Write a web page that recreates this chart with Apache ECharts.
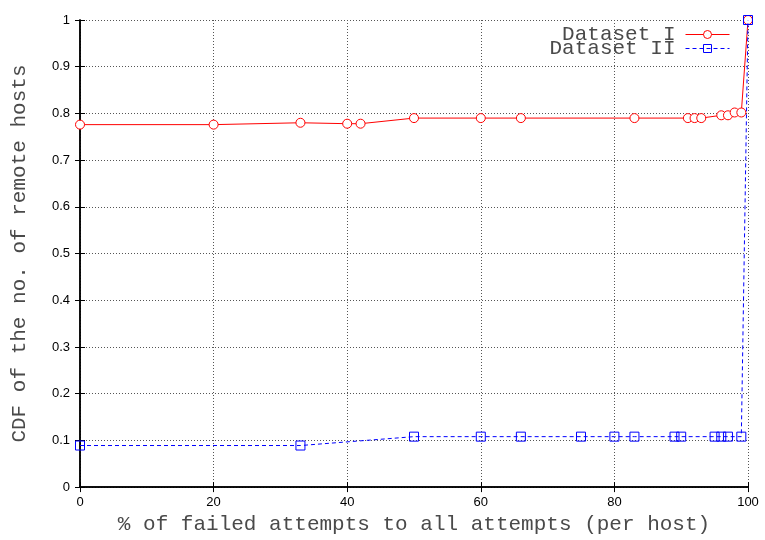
<!DOCTYPE html>
<html>
<head>
<meta charset="utf-8">
<script src="https://cdn.jsdelivr.net/npm/echarts@6/dist/echarts.min.js"></script>
<style>
  html, body { margin: 0; padding: 0; background: #fff; }
  #chart { width: 765px; height: 540px; }
</style>
</head>
<body>
<div id="chart"></div>
<script>
// % of failed attempts (x) and CDF values (y)
const datasetOneX = [0, 20, 33, 40, 42, 50, 60, 66, 83, 91, 92, 93, 96, 97, 98, 99, 100]
const datasetOneY = [0.776, 0.776, 0.780, 0.778, 0.778, 0.790, 0.790, 0.790, 0.790, 0.790, 0.790, 0.790, 0.796, 0.796, 0.802, 0.802, 1.0]
const datasetTwoX = [0, 33, 50, 60, 66, 75, 80, 83, 89, 90, 95, 96, 97, 99, 100]
const datasetTwoY = [0.089, 0.089, 0.108, 0.108, 0.108, 0.108, 0.108, 0.108, 0.108, 0.108, 0.108, 0.108, 0.108, 0.108, 1.0]

const seriesNames = ['Dataset I', 'Dataset II']

const pair = (xs, ys) => xs.map((x, i) => [x, ys[i]])

const mono = 'Liberation Mono'
const sans = 'Liberation Sans'
const textColor = '#4a4a4a'

const chart = echarts.init(document.getElementById('chart'))

const frameAxis = {
  axisLine: { show: true, lineStyle: { color: '#000', width: 1.5 } },
  axisTick: { show: true, inside: true, length: 5, lineStyle: { color: '#000', width: 1 } }
}

// gnuplot-style key: one row per legend so the rows can sit close together
const keyRow = (name, top) => ({
  data: [name],
  orient: 'vertical',
  right: 35,
  top: top,
  padding: 0,
  align: 'right',
  itemWidth: 44,
  itemHeight: 10,
  lineStyle: { width: 1 },
  itemStyle: { borderWidth: 1 },
  textStyle: { fontFamily: mono, fontSize: 21, color: textColor, lineHeight: 16, padding: [0, 5, 0, 0] }
})

const option = {
  animation: false,
  backgroundColor: '#fff',
  grid: { left: 80, top: 20, width: 668, height: 471, containLabel: false },
  legend: [keyRow(seriesNames[0], 24), keyRow(seriesNames[1], 38)],
  xAxis: [
    {
      type: 'value', min: 0, max: 100, interval: 20,
      name: '% of failed attempts to all attempts (per host)',
      nameLocation: 'middle', nameGap: 24,
      nameTextStyle: { fontFamily: mono, fontSize: 21, color: textColor },
      ...frameAxis,
      axisLabel: { fontFamily: sans, fontSize: 13, color: '#000', margin: 9 },
      splitLine: { show: true, lineStyle: { type: [1, 2], color: '#555', width: 1 } }
    },
    {
      type: 'value', min: 0, max: 100, interval: 20, position: 'top',
      ...frameAxis,
      axisLabel: { show: false },
      splitLine: { show: false }
    }
  ],
  yAxis: [
    {
      type: 'value', min: 0, max: 1, interval: 0.1,
      name: 'CDF of the no. of remote hosts',
      nameLocation: 'middle', nameGap: 50,
      nameTextStyle: { fontFamily: mono, fontSize: 21, color: textColor },
      ...frameAxis,
      axisLabel: {
        fontFamily: sans, fontSize: 13, color: '#000', margin: 10,
        formatter: v => String(Math.round(v * 10) / 10)
      },
      splitLine: { show: true, lineStyle: { type: [1, 2], color: '#555', width: 1 } }
    },
    {
      type: 'value', min: 0, max: 1, interval: 0.1, position: 'right',
      ...frameAxis,
      axisLabel: { show: false },
      splitLine: { show: false }
    }
  ],
  series: [
    {
      name: seriesNames[0],
      type: 'line',
      data: pair(datasetOneX, datasetOneY),
      symbol: 'circle',
      symbolSize: 9,
      showAllSymbol: true,
      lineStyle: { color: '#ff0000', width: 1 },
      itemStyle: { color: '#fff', borderColor: '#ff0000', borderWidth: 1 },
      z: 3
    },
    {
      name: seriesNames[1],
      type: 'line',
      data: pair(datasetTwoX, datasetTwoY),
      symbol: 'rect',
      symbolSize: 9,
      showAllSymbol: true,
      lineStyle: { color: '#0000ff', width: 1, type: [4, 3] },
      itemStyle: { color: 'rgba(255,255,255,0)', borderColor: '#0000ff', borderWidth: 1 },
      z: 4
    }
  ]
}

chart.setOption(option)
</script>
</body>
</html>
